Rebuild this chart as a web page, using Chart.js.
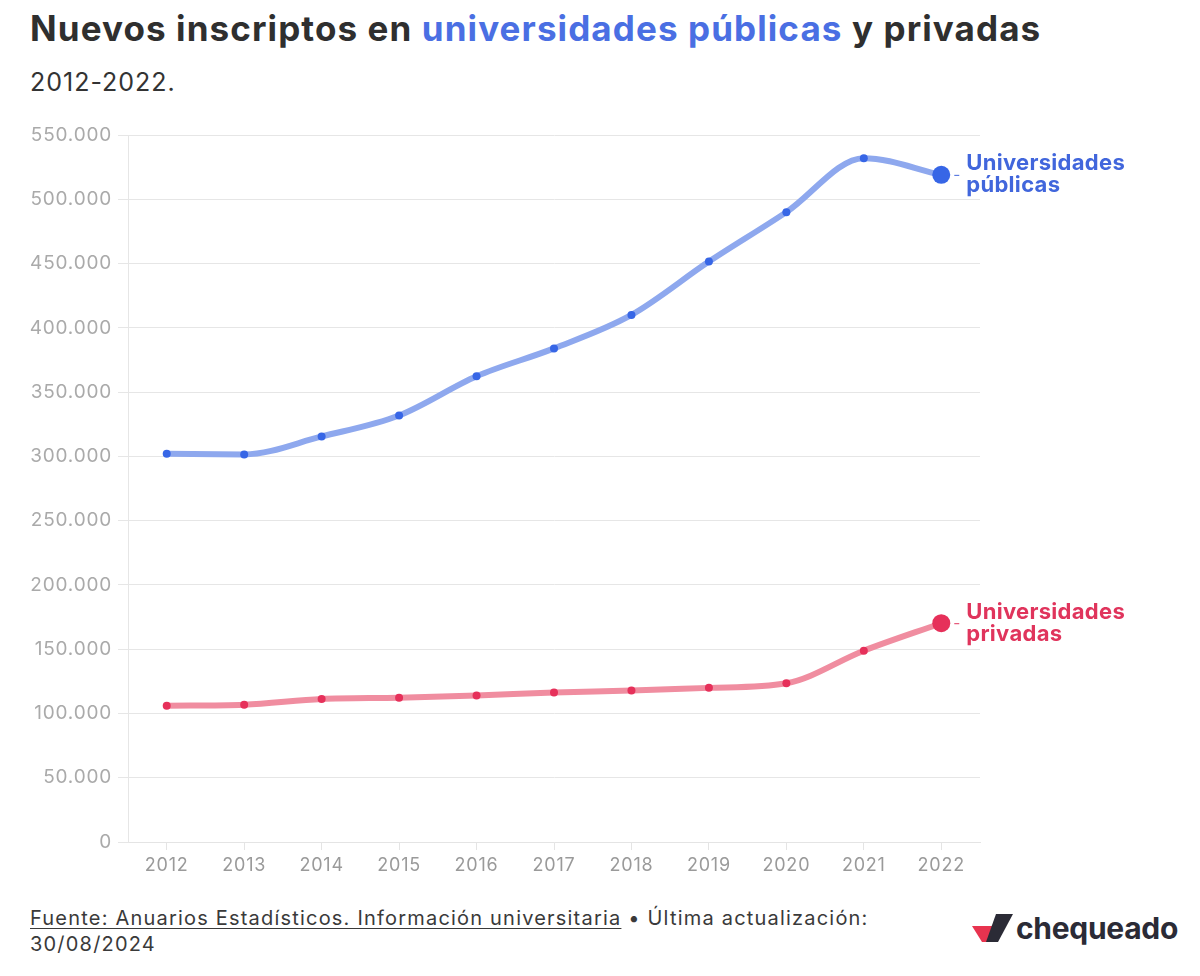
<!DOCTYPE html>
<html lang="es">
<head>
<meta charset="utf-8">
<script src="https://cdn.jsdelivr.net/npm/chart.js@4.4.1/dist/chart.umd.min.js"></script>
<style>
  html, body { margin: 0; padding: 0; background: #fff; }
  body { width: 1200px; height: 976px; position: relative; overflow: hidden; font-family: Inter, "Noto Sans", sans-serif; color: #333; }
  .title { position: absolute; left: 30px; top: 7px; font-size: 35px; font-weight: 700; color: #2f2f2f; letter-spacing: 1.1px; white-space: nowrap; }
  .title .pub { color: #4a6fe3; }
  .subtitle { position: absolute; left: 30px; top: 67px; font-size: 25px; color: #333; letter-spacing: 1px; }
  .chart-box { position: absolute; left: 0; top: 110px; width: 1200px; height: 780px; }
  .footer { position: absolute; left: 30px; top: 905px; font-size: 20px; line-height: 26px; color: #3a3a3a; letter-spacing: 1.2px; }
  .footer u { text-decoration-thickness: 1px; text-underline-offset: 3px; }
  .logo { position: absolute; left: 970px; top: 910px; display: flex; align-items: center; gap: 2px; }
  .logo span { font-size: 30px; font-weight: 700; color: #2b2b36; letter-spacing: -0.3px; }
</style>
</head>
<body>
<div class="title">Nuevos inscriptos en <span class="pub">universidades públicas</span> y privadas</div>
<div class="subtitle">2012-2022.</div>
<div class="chart-box"><canvas id="chart"></canvas></div>
<div class="footer"><u>Fuente: Anuarios Estadísticos. Información universitaria</u> • Última actualización:<br>30/08/2024</div>
<div class="logo">
  <svg width="44" height="32" viewBox="0 0 44 32">
    <polygon points="2,14 22,14 28,30 12,30" fill="#e8334f"/>
    <polygon points="26,2 43,2 28,30 16,30" fill="#2b2b36"/>
  </svg>
  <span>chequeado</span>
</div>
<script>
const years      = ['2012','2013','2014','2015','2016','2017','2018','2019','2020','2021','2022'];
const publicas   = [302000, 301500, 315500, 331800, 362300, 384000, 410000, 451500, 490000, 532000, 519000];
const privadas   = [106000, 106800, 111300, 112300, 114000, 116300, 117800, 119900, 123500, 148800, 170200];
const yTicks     = [0, 50000, 100000, 150000, 200000, 250000, 300000, 350000, 400000, 450000, 500000, 550000];
const seriesNames = [['Universidades', 'públicas'], ['Universidades', 'privadas']];

const fmt = v => v.toLocaleString('es-AR').replace(/,/g, '.');

// wider letters like the original typeface
const spacing = {
  id: 'spacing',
  beforeDraw(chart) { chart.ctx.letterSpacing = '0.8px'; }
};

const endLabels = {
  id: 'endLabels',
  afterDatasetsDraw(chart) {
    const ctx = chart.ctx;
    chart.data.datasets.forEach((ds, i) => {
      const meta = chart.getDatasetMeta(i);
      const pt = meta.data[meta.data.length - 1];
      ctx.save();
      ctx.strokeStyle = ds.labelColor;
      ctx.lineWidth = 1;
      ctx.beginPath();
      ctx.moveTo(pt.x + 13, pt.y + 0.5);
      ctx.lineTo(pt.x + 18, pt.y + 0.5);
      ctx.stroke();
      ctx.fillStyle = ds.labelColor;
      ctx.letterSpacing = '0.3px';
      ctx.font = '700 22px Inter, "Noto Sans", sans-serif';
      ctx.textBaseline = 'middle';
      ctx.textAlign = 'left';
      const lines = seriesNames[i];
      ctx.fillText(lines[0], pt.x + 25, pt.y - 11);
      ctx.fillText(lines[1], pt.x + 25, pt.y + 11);
      ctx.restore();
    });
  }
};

const radii = n => years.map((_, i) => i === years.length - 1 ? 9 : n);

new Chart(document.getElementById('chart'), {
  type: 'line',
  data: {
    labels: years,
    datasets: [
      {
        label: 'Universidades públicas',
        data: publicas,
        borderColor: '#8ea8ee',
        backgroundColor: '#3766e6',
        pointBackgroundColor: '#3766e6',
        pointBorderWidth: 0,
        pointRadius: radii(4),
        borderWidth: 6,
        cubicInterpolationMode: 'monotone',
        labelColor: '#4166dc',
      },
      {
        label: 'Universidades privadas',
        data: privadas,
        borderColor: '#f08da0',
        backgroundColor: '#e6305a',
        pointBackgroundColor: '#e6305a',
        pointBorderWidth: 0,
        pointRadius: radii(4),
        borderWidth: 6,
        cubicInterpolationMode: 'monotone',
        labelColor: '#e0345c',
      }
    ]
  },
  options: {
    responsive: true,
    maintainAspectRatio: false,
    animation: false,
    layout: { padding: { top: 25, right: 220, bottom: 0, left: 0 } },
    plugins: {
      legend: { display: false },
      tooltip: { enabled: false }
    },
    scales: {
      x: {
        offset: true,
        grid: { display: true, drawOnChartArea: false, drawTicks: true, tickLength: 8, color: '#e4e4e4', offset: false },
        border: { display: true, color: '#e4e4e4' },
        ticks: { color: '#9a9a9a', font: { size: 18, family: 'Inter, "Noto Sans", sans-serif' }, padding: 5, maxRotation: 0 },
        afterFit: s => { s.height = 48; }
      },
      y: {
        min: 0, max: 550000,
        afterBuildTicks: s => { s.ticks = yTicks.map(v => ({ value: v })); },
        grid: { color: '#e6e6e6', tickLength: 10, lineWidth: 1 },
        border: { display: true, color: '#e6e6e6' },
        ticks: { color: '#aaaaaa', font: { size: 19, family: 'Inter, "Noto Sans", sans-serif' }, padding: 6, callback: v => fmt(v) },
        afterFit: s => { s.width = 128; }
      }
    }
  },
  plugins: [spacing, endLabels]
});
</script>
</body>
</html>
